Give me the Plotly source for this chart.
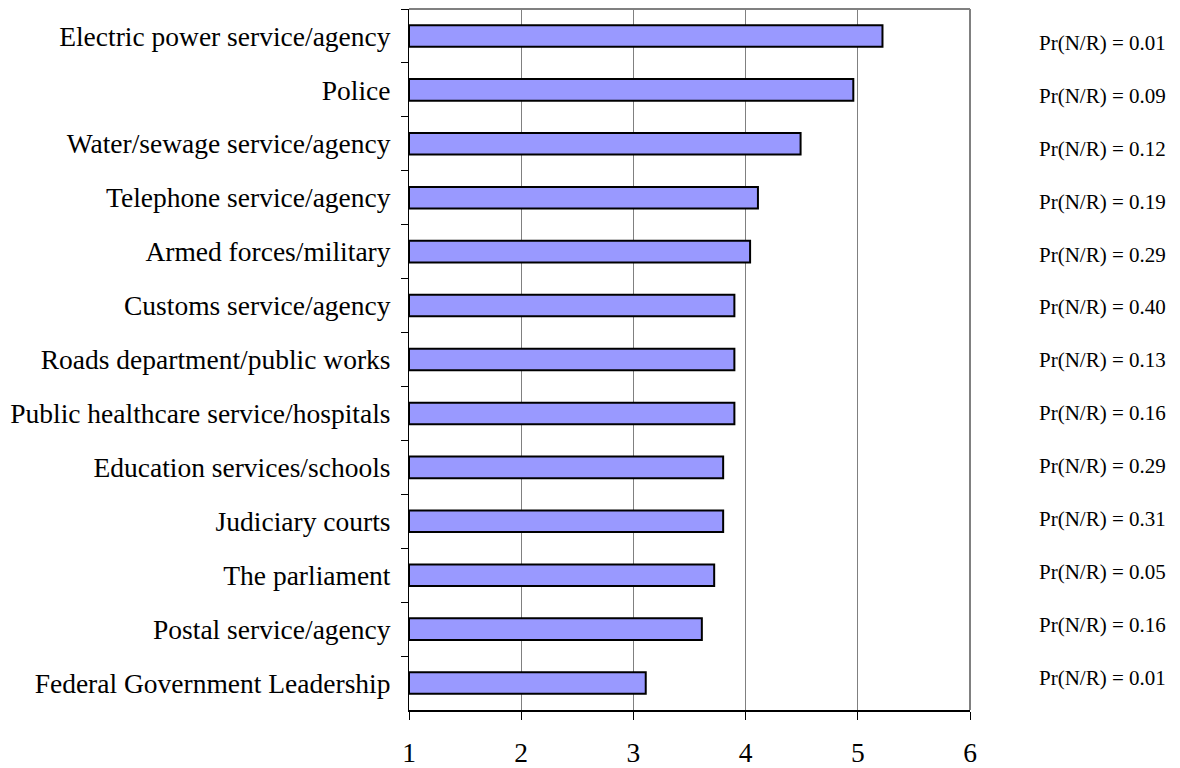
import plotly.graph_objects as go

# Institutions, listed top to bottom
categories = [
    "Electric power service/agency",
    "Police",
    "Water/sewage service/agency",
    "Telephone service/agency",
    "Armed forces/military",
    "Customs service/agency",
    "Roads department/public works",
    "Public healthcare service/hospitals",
    "Education services/schools",
    "Judiciary courts",
    "The parliament",
    "Postal service/agency",
    "Federal Government Leadership",
]

# Mean scores
scores = [5.22, 4.96, 4.49, 4.11, 4.04, 3.90, 3.90, 3.90, 3.80, 3.80, 3.72, 3.61, 3.11]

# Probability of non-response for each institution
pr_nr = ["0.01", "0.09", "0.12", "0.19", "0.29", "0.40", "0.13",
         "0.16", "0.29", "0.31", "0.05", "0.16", "0.01"]

x_ticks = [1, 2, 3, 4, 5, 6]
axis_min = 1

FONT = "Liberation Serif"

# Bars are anchored at the axis minimum, so the bar length is score - axis_min
fig = go.Figure(
    go.Bar(
        x=[v - axis_min for v in scores],
        y=categories,
        base=axis_min,
        orientation="h",
        width=0.4,
        marker=dict(color="#9999FF", line=dict(color="black", width=2)),
        customdata=scores,
        hovertemplate="%{y}: %{customdata}<extra></extra>",
    )
)

# Pr(N/R) labels in a column right of the plot
label_top = 0.9515
label_step = 0.07546
annotations = []
for i, p in enumerate(pr_nr):
    annotations.append(dict(
        x=1.2353, xref="paper", xanchor="center",
        y=label_top - i * label_step, yref="paper", yanchor="middle",
        text=f"Pr(N/R) = {p}", showarrow=False,
        font=dict(family=FONT, size=21, color="black"),
    ))

fig.update_layout(
    width=1180,
    height=768,
    margin=dict(l=409, r=210, t=9, b=58, pad=0),
    paper_bgcolor="white",
    plot_bgcolor="white",
    showlegend=False,
    annotations=annotations,
    font=dict(family=FONT, size=27.5, color="black"),
    shapes=[
        dict(type="line", xref="paper", yref="paper", x0=0, x1=1, y0=1, y1=1,
             line=dict(color="#808080", width=2)),
        dict(type="line", xref="paper", yref="paper", x0=1, x1=1, y0=0, y1=1,
             line=dict(color="#808080", width=2)),
    ],
)

fig.update_xaxes(
    range=[x_ticks[0], x_ticks[-1]],
    tickvals=x_ticks,
    ticktext=[str(t) for t in x_ticks],
    automargin=False,
    showgrid=True,
    gridcolor="#808080",
    gridwidth=1,
    zeroline=False,
    showline=True,
    linecolor="black",
    linewidth=1.5,
    ticks="outside",
    ticklen=8,
    tickcolor="black",
    tickwidth=1,
    ticklabelstandoff=9,
    tickfont=dict(family=FONT, size=27.5, color="black"),
)

fig.update_yaxes(
    autorange="reversed",
    categoryorder="array",
    categoryarray=categories,
    automargin=False,
    showgrid=False,
    zeroline=False,
    showline=True,
    linecolor="black",
    linewidth=1,
    ticks="outside",
    tickson="boundaries",
    ticklen=7,
    tickcolor="black",
    tickwidth=1,
    ticklabelstandoff=12,
    tickfont=dict(family=FONT, size=27.5, color="black"),
)

fig.write_html("out.html")
